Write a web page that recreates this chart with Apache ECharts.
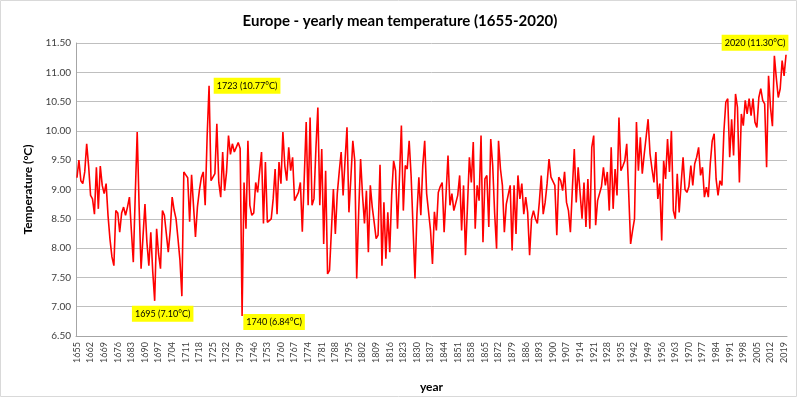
<!DOCTYPE html>
<html>
<head>
<meta charset="utf-8">
<title>Europe - yearly mean temperature</title>
<script src="https://cdn.jsdelivr.net/npm/echarts@6/dist/echarts.min.js"></script>
<style>
    html, body { margin: 0; padding: 0; background: #fff; }
    #chart { width: 800px; height: 398px; }
</style>
</head>
<body>
<div id="chart"></div>
<script>

// Data
// ------------------------------

var firstYear = 1655;
var lastYear = 2020;

var temp1655 = [9.20, 9.50, 9.15, 9.10, 9.30, 9.78, 9.40, 8.90, 8.84, 8.58,
    9.38, 8.67, 9.40, 9.07, 8.93, 9.10, 8.55, 8.15, 7.85, 7.70,
    8.64, 8.60, 8.27, 8.60, 8.70, 8.56, 8.70, 8.87, 8.30];
var temp1684 = [7.76, 8.90, 9.98, 8.70, 7.65, 8.20, 8.75, 8.10, 7.70, 8.27,
    7.60, 7.10, 8.33, 7.90, 7.65, 8.64, 8.56, 8.58, 7.93, 8.30,
    8.87, 8.65, 8.50, 8.16, 7.80, 7.18, 9.30, 9.25, 9.20, 8.45, 9.25];
var temp1715 = [9.27, 8.19, 8.70, 8.98, 9.20, 9.30, 8.73, 9.90, 10.77, 9.15,
    9.12, 9.27, 10.12, 9.12, 8.87, 9.64, 8.98, 9.30, 9.92, 9.60,
    9.78, 9.64, 9.64, 9.80, 9.70, 6.84, 9.12, 8.33, 9.83, 8.73, 8.56, 8.60];
var temp1747 = [9.12, 8.95, 9.30, 9.64, 8.42, 9.47, 8.44, 8.45, 8.50, 8.84,
    9.35, 8.58, 9.47, 9.10, 9.98, 9.40, 9.15, 9.72, 9.32, 9.55,
    8.81, 8.78, 8.95, 9.12, 8.28, 9.20, 10.15, 8.73, 10.23, 8.73];
var temp1777 = [8.84, 9.70, 10.40, 8.73, 9.69, 8.07, 9.32, 7.56, 7.62, 7.65,
    9.01, 8.24, 8.93, 9.30, 9.64, 8.90, 9.50, 10.06, 8.61, 9.20,
    9.83, 9.49, 7.48, 8.60, 9.52, 8.90, 8.42, 8.98, 7.93, 9.07, 8.70];
var temp1808 = [8.44, 8.16, 8.22, 9.42, 7.70, 8.78, 7.82, 8.61, 7.93, 8.90,
    9.49, 9.32, 8.33, 9.20, 10.09, 8.64, 9.41, 9.35, 9.83, 9.24,
    9.21, 7.48, 8.58, 9.21, 8.56, 9.40, 9.83, 8.93, 8.90, 8.30, 7.73, 8.62];
var temp1840 = [8.30, 8.95, 9.05, 9.12, 8.27, 8.24, 9.58, 8.73, 8.93, 8.64,
    8.61, 8.90, 9.24, 8.30, 9.07, 7.88, 8.70, 9.55, 9.12, 9.81,
    8.33, 9.07, 8.81, 9.92, 8.10, 9.18, 9.24, 8.36, 9.86, 9.41, 8.60];
var temp1871 = [7.99, 9.83, 9.35, 9.07, 8.27, 8.75, 8.78, 9.07, 7.96, 9.07,
    8.24, 9.24, 8.84, 9.10, 8.58, 8.87, 8.61, 7.88, 8.50, 8.64,
    8.50, 8.42, 8.78, 9.24, 8.58, 8.78, 9.10, 9.52, 9.21, 9.24, 9.07];
var temp1902 = [8.22, 9.21, 9.15, 8.98, 9.30, 8.78, 8.64, 8.27, 9.00, 9.69,
    8.78, 9.38, 9.41, 8.50, 9.12, 8.36, 9.18, 8.33, 9.72, 9.92,
    8.39, 8.81, 8.80, 9.05, 9.38, 9.07, 9.30, 8.64, 9.72, 8.67, 9.35, 8.90];
var temp1934 = [10.23, 9.32, 9.40, 9.49, 9.78, 8.95, 8.07, 8.30, 8.50, 10.15,
    9.32, 9.89, 9.27, 9.60, 9.90, 10.20, 9.61, 9.35, 9.12, 9.64,
    8.84, 9.10, 8.13, 9.49, 9.18, 9.86, 9.30, 10.00, 8.64, 8.50];
var temp1964 = [9.27, 8.61, 9.10, 9.55, 9.00, 8.95, 9.05, 9.41, 9.07, 9.44,
    9.55, 9.72, 9.24, 9.38, 8.87, 9.04, 8.87, 9.44, 9.83, 9.95,
    9.18, 8.90, 9.15, 9.07, 9.98, 10.49, 10.55, 9.55, 10.20, 9.58,
    10.63, 10.40, 9.12];
var temp1997 = [10.29, 10.09, 10.52, 10.29, 10.55, 10.26, 10.55, 10.15, 10.06, 10.57,
    10.72, 10.52, 10.46, 9.38, 10.94, 10.40, 10.08, 11.28, 10.90, 10.57,
    10.72, 11.20, 10.94, 11.30];

// Years that carry a yellow label
var labelYears = ['1695', '1723', '1740', '2020'];

var years = [];
for (var y = firstYear; y <= lastYear; y++) {
    years.push(String(y));
}

var temps = [].concat(temp1655, temp1684, temp1715, temp1747, temp1777, temp1808,
    temp1840, temp1871, temp1902, temp1934, temp1964, temp1997);


// Chart
// ------------------------------

var fontFamily = 'Lato, "Open Sans", Arial, sans-serif';

// label offsets (px) for each annotated year
var labelOffsets = {
    '1695': [8, 13],
    '1723': [38, 0],
    '1740': [32, 6],
    '2020': [-31, -12]
};

var markData = labelYears.map(function(yr) {
    var v = temps[years.indexOf(yr)];
    return {
        name: yr + ' (' + v.toFixed(2) + '°C)',
        coord: [yr, v],
        label: { offset: labelOffsets[yr] }
    };
});

var chart = echarts.init(document.getElementById('chart'));

chart.setOption({
    animation: false,
    textStyle: { fontFamily: fontFamily },

    title: {
        text: 'Europe - yearly mean temperature (1655-2020)',
        left: 'center',
        top: 9,
        textStyle: {
            fontSize: 15,
            fontWeight: 'bold',
            color: '#000',
            fontFamily: fontFamily
        }
    },

    grid: {
        left: 76,
        right: 13,
        top: 43,
        bottom: 62
    },

    graphic: [{
        type: 'rect',
        shape: { x: 0.5, y: 0.5, width: 796, height: 396 },
        style: { fill: 'none', stroke: '#d9d9d9', lineWidth: 1 },
        silent: true
    }],

    xAxis: {
        type: 'category',
        data: years,
        boundaryGap: true,
        name: 'year',
        nameLocation: 'middle',
        nameGap: 45,
        nameTextStyle: { fontSize: 12, fontWeight: 'bold', color: '#000' },
        axisLine: { lineStyle: { color: '#a6a6a6' } },
        axisTick: {
            interval: 0,
            length: 4,
            lineStyle: { color: '#a6a6a6' }
        },
        axisLabel: {
            interval: 6,
            rotate: 90,
            fontSize: 9,
            color: '#404040',
            margin: 6
        },
        splitLine: { show: false }
    },

    yAxis: {
        type: 'value',
        min: 6.5,
        max: 11.5,
        interval: 0.5,
        name: 'Temperature (°C)',
        nameLocation: 'middle',
        nameRotate: 90,
        nameGap: 38,
        nameTextStyle: { fontSize: 12, fontWeight: 'bold', color: '#000' },
        axisLine: { show: true, lineStyle: { color: '#a6a6a6' } },
        axisTick: { show: false },
        axisLabel: {
            fontSize: 10,
            color: '#404040',
            margin: 5,
            formatter: function(v) { return v.toFixed(2); }
        },
        splitLine: { lineStyle: { color: '#bfbfbf', width: 1 } }
    },

    series: [{
        name: 'Temperature',
        type: 'line',
        data: temps,
        showSymbol: false,
        lineStyle: { color: '#ff0000', width: 1.6 },
        itemStyle: { color: '#ff0000' },
        markPoint: {
            symbol: 'circle',
            symbolSize: 1,
            itemStyle: { color: 'rgba(0,0,0,0)' },
            label: {
                show: true,
                position: 'inside',
                formatter: function(p) { return p.name; },
                backgroundColor: '#ffff00',
                color: '#000',
                fontSize: 9,
                padding: [4, 3, 3, 3]
            },
            data: markData
        }
    }]
});

</script>
</body>
</html>
